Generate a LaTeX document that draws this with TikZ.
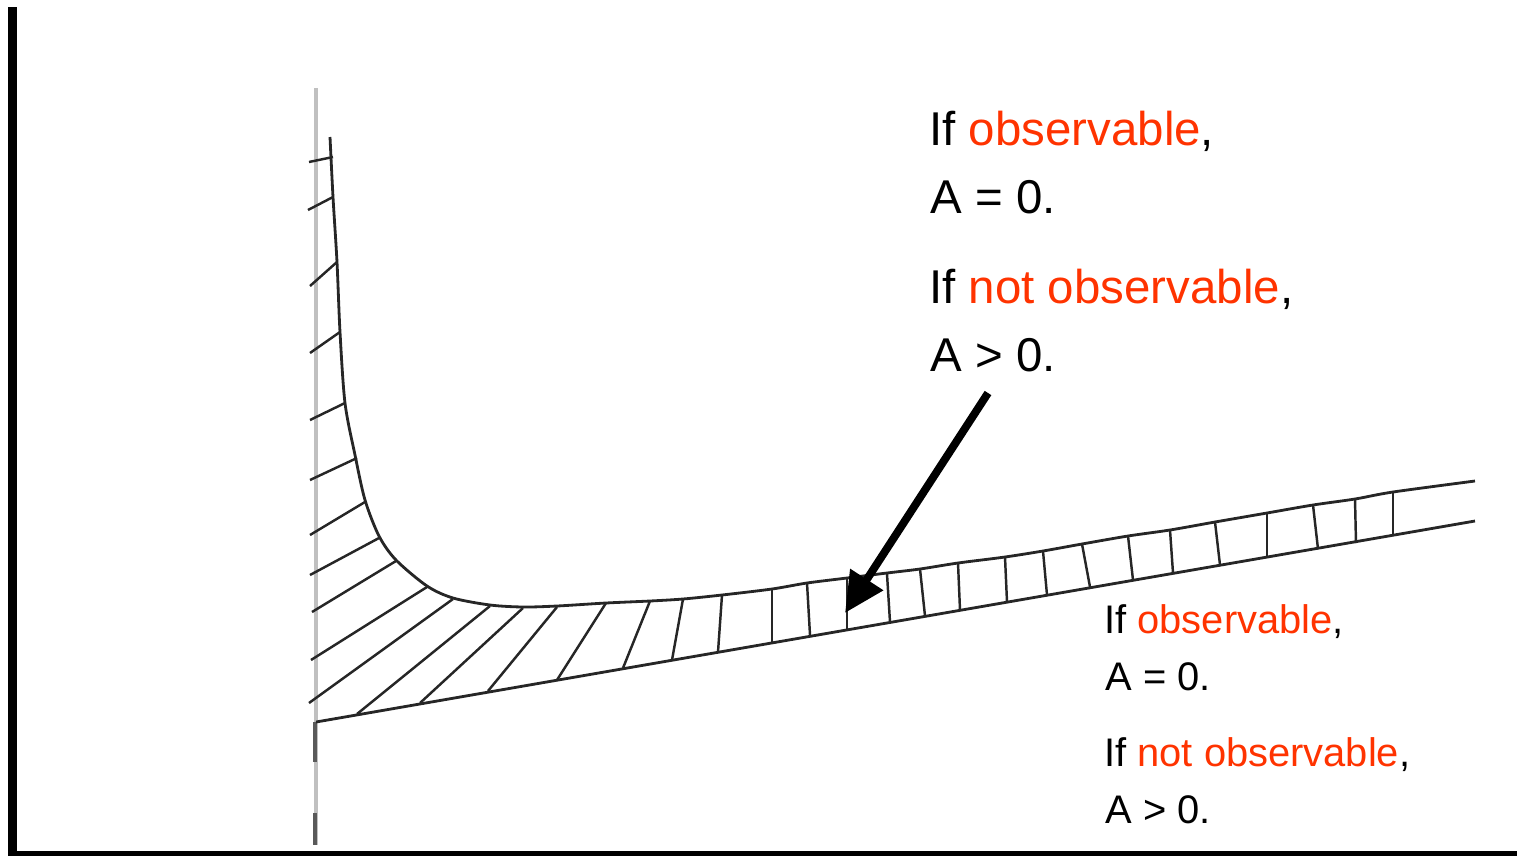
\documentclass[tikz,border=0pt]{standalone}
\usepackage{fontspec}
\setmainfont{Liberation Sans}
\usetikzlibrary{arrows.meta}
\definecolor{obsred}{RGB}{255,51,0}
\definecolor{axisgray}{RGB}{192,192,192}

\begin{document}
\begin{tikzpicture}[x=0.02cm,y=-0.02cm,
  hatch/.style={line width=1.4pt,black!85},
  rim/.style={line width=1.6pt,black!85},
  pointer/.style={-{Triangle[length=0.8cm,width=0.75cm]},line width=4.5pt},
  bigtxt/.style={anchor=base west,inner sep=0pt,font=\fontsize{27}{32}\selectfont},
  smalltxt/.style={anchor=base west,inner sep=0pt,font=\fontsize{22.7}{27}\selectfont}]
  \useasboundingbox (0,0) rectangle (1524,856);
  % frame
  \fill (8,7) rectangle (17,856);
  \fill (8,851) rectangle (1517,856);
  % scanned axis
  \draw[axisgray,line width=2.2pt] (316,88) -- (316,845);
  \draw[black!65,line width=2pt] (315,722) -- (315,762) (315,813) -- (315,845);
  % hatching
  \foreach \xa/\ya/\xb/\yb in {309/162/333/157, 308/210/333/197, 310/286/337/262,
      310/353/340/332, 310/420/345/403, 310/480/357/458, 310/535/365/502,
      310/575/379/538, 312/612/396/561, 311/660/427/587, 309/703/453/599,
      357/714/490/606, 420/703/523/608, 488/691/557/607, 557/680/606/603,
      623/668/650/601, 672/660/683/599, 718/652/722/595, 772/642/772/589,
      810/635/807/583, 847/629/847/578, 890/622/887/574, 925/616/920/569,
      960/610/958/563, 1007/602/1005/557, 1047/595/1043/551, 1090/587/1082/544,
      1133/580/1128/536, 1173/573/1170/530, 1220/565/1215/522, 1267/557/1267/513,
      1318/549/1313/505, 1356/543/1355/499, 1393/536/1393/492}
    \draw[hatch] (\xa,\ya) -- (\xb,\yb);
  % band edges
  \draw[rim] plot[smooth] coordinates {(330,137) (333,197) (337,262) (340,332)
      (345,403) (355,455) (365,500) (379,536) (396,560) (427,586) (453,598)
      (490,605) (523,607) (557,606) (606,603) (650,601) (683,599) (722,595)
      (772,589) (807,583) (847,578) (887,573) (920,569) (958,563) (1005,557)
      (1043,551) (1082,544) (1128,536) (1170,530) (1215,522) (1267,513)
      (1313,505) (1355,499) (1393,492) (1475,481)};
  \draw[rim] (316,722) -- (1475,521);
  % labels
  \node[bigtxt] (obsA) at (929,145) {If \textcolor{obsred}{observable},};
  \node[bigtxt] (eqA) at (930,213) {A = 0.};
  \node[bigtxt] (nobsA) at (929,303) {If \textcolor{obsred}{not observable},};
  \node[bigtxt] (gtA) at (930,371) {A > 0.};
  \node[smalltxt] (obsB) at (1104,633) {If \textcolor{obsred}{observable},};
  \node[smalltxt] (eqB) at (1105,690) {A = 0.};
  \node[smalltxt] (nobsB) at (1104,766) {If \textcolor{obsred}{not observable},};
  \node[smalltxt] (gtB) at (1105,823) {A > 0.};
  % pointer
  \coordinate (arrtail) at (988,393);
  \coordinate (arrtip) at (845,613);
  \draw[pointer] (arrtail) -- (arrtip);
\end{tikzpicture}
\end{document}
